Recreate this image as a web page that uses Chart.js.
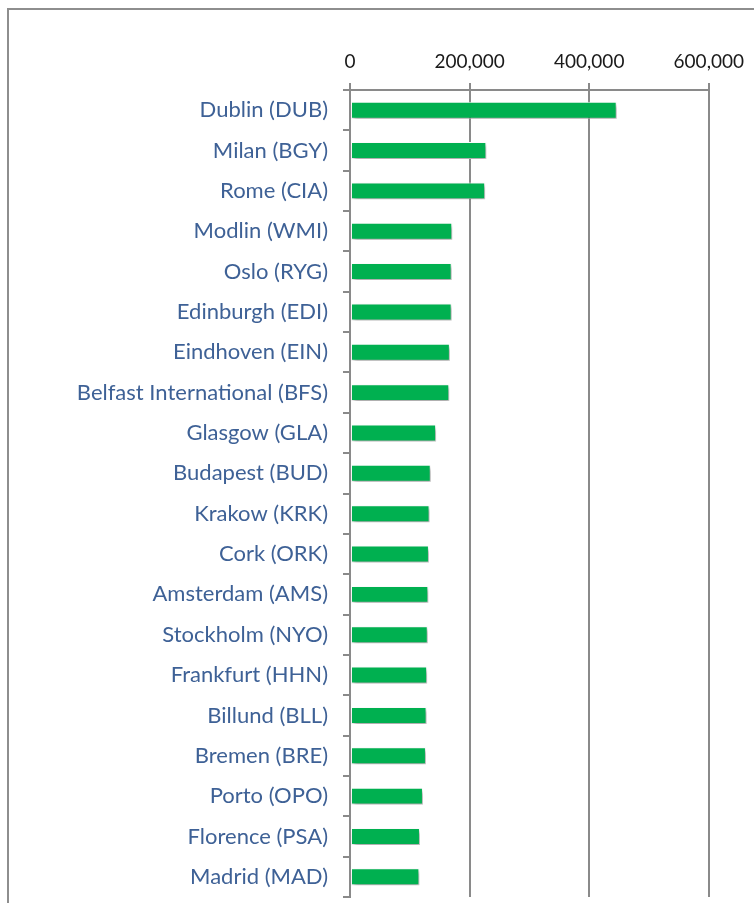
<!DOCTYPE html>
<html>
<head>
  <meta charset="utf-8" />
  <title>Airports</title>
  <script src="https://cdn.jsdelivr.net/npm/chart.js@4.4.0/dist/chart.umd.min.js"></script>
  <style>
    body {
      margin: 0;
      background: #fff;
      overflow: hidden;
    }
    .frame {
      position: absolute;
      left: 7px;
      top: 8px;
      width: 800px;
      height: 950px;
      border: 2px solid #8e8e8e;
    }
    #airportChart {
      position: absolute;
      left: 0;
      top: 0;
    }
  </style>
</head>
<body>

<div class="frame"></div>
<canvas id="airportChart" width="754" height="903"></canvas>

<script>
  // Airports, top to bottom
  const airports = [
    'Dublin (DUB)', 'Milan (BGY)', 'Rome (CIA)', 'Modlin (WMI)', 'Oslo (RYG)',
    'Edinburgh (EDI)', 'Eindhoven (EIN)', 'Belfast International (BFS)', 'Glasgow (GLA)', 'Budapest (BUD)',
    'Krakow (KRK)', 'Cork (ORK)', 'Amsterdam (AMS)', 'Stockholm (NYO)', 'Frankfurt (HHN)',
    'Billund (BLL)', 'Bremen (BRE)', 'Porto (OPO)', 'Florence (PSA)', 'Madrid (MAD)'
  ];
  // values
  const passengers = [
    446000, 228000, 226000, 171000, 170000,
    170000, 167000, 166000, 144000, 135000,
    133000, 132000, 131000, 130000, 129000,
    128000, 127000, 122000, 117000, 116000
  ];
  const xMin = 0;
  const xMax = 600000;
  const xStep = 200000;

  const gridGrey = '#8a8a8a';

  // soft drop shadow under the bars, like the spreadsheet one
  const barShadow = {
    id: 'barShadow',
    beforeDatasetsDraw(chart) {
      const ctx = chart.ctx;
      ctx.save();
      ctx.shadowColor = 'rgba(0,0,0,0.35)';
      ctx.shadowBlur = 4;
      ctx.shadowOffsetX = 2;
      ctx.shadowOffsetY = 3;
    },
    afterDatasetsDraw(chart) {
      chart.ctx.restore();
    }
  };

  const ctx = document.getElementById('airportChart').getContext('2d');
  new Chart(ctx, {
    type: 'bar',
    data: {
      labels: airports,
      datasets: [{
        data: passengers,
        backgroundColor: '#00b050',
        borderColor: '#ffffff',
        borderWidth: 1,
        borderSkipped: false,
        barPercentage: 0.42,
        categoryPercentage: 1
      }]
    },
    plugins: [barShadow],
    options: {
      indexAxis: 'y',
      responsive: false,
      animation: false,
      layout: {
        padding: { left: 0, right: 45, top: 0, bottom: 6 }
      },
      plugins: {
        legend: { display: false },
        tooltip: { enabled: false }
      },
      scales: {
        x: {
          position: 'top',
          min: xMin,
          max: xMax,
          afterFit(scale) { scale.height = 90; },
          ticks: {
            stepSize: xStep,
            color: '#1a1a1a',
            padding: 10,
            font: { family: 'Lato', size: 19 },
            callback: v => v.toLocaleString('en-US')
          },
          grid: {
            color: gridGrey,
            lineWidth: 2,
            tickLength: 7
          },
          border: { display: true, color: gridGrey, width: 2 }
        },
        y: {
          afterFit(scale) {
            scale.width = 350;
            // don't let label half-heights eat into the plot height
            scale.paddingTop = 0;
            scale.paddingBottom = 0;
          },
          ticks: {
            color: '#3e6196',
            padding: 15,
            font: { family: 'Lato', size: 22 }
          },
          grid: {
            offset: true,
            drawOnChartArea: false,
            color: gridGrey,
            lineWidth: 2,
            tickLength: 7
          },
          border: { display: true, color: gridGrey, width: 2 }
        }
      }
    }
  });
</script>

</body>
</html>
